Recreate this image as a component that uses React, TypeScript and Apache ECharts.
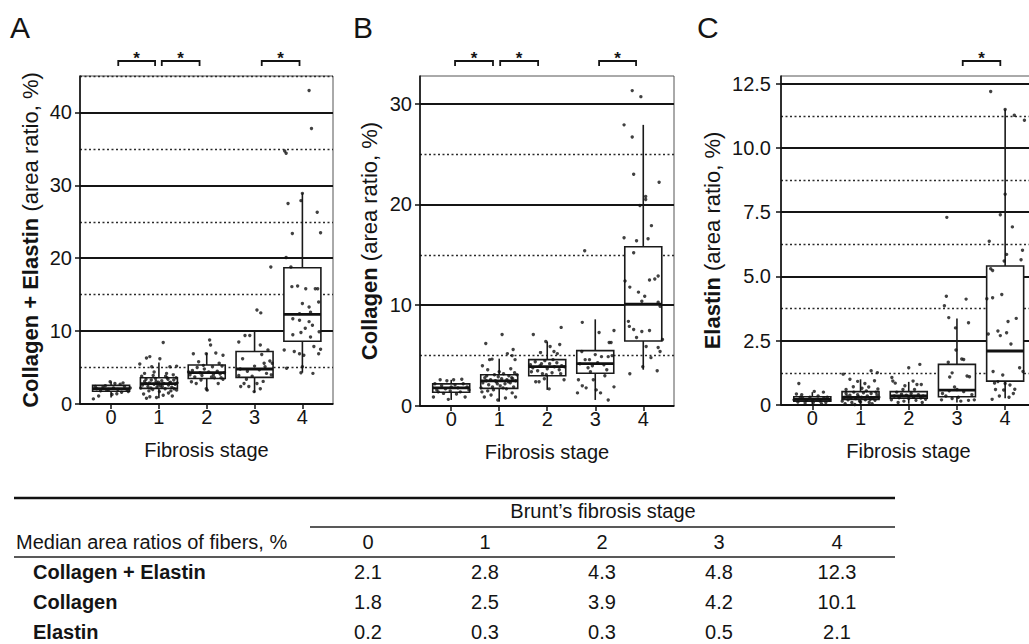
import React, { useEffect, useRef } from 'react';
import * as echarts from 'echarts';

const FONT = '"Liberation Sans", Arial, Helvetica, sans-serif';

// ---------- axis ticks ----------
const stageTicks = [0, 1, 2, 3, 4];
const yTicksA = [0, 10, 20, 30, 40];
const yMinorA = [5, 15, 25, 35, 45];
const yTicksB = [0, 10, 20, 30];
const yMinorB = [5, 15, 25];
const yTicksC = [0, 2.5, 5, 7.5, 10, 12.5];
const yMinorC = [1.25, 3.75, 6.25, 8.75, 11.25];

// ---------- box statistics: [stage, min, Q1, median, Q3, max] ----------
const boxesA = [
  [0, 0.9, 1.75, 2.1, 2.55, 3.1],
  [1, 0.8, 2.15, 2.8, 3.6, 5.7],
  [2, 1.8, 3.5, 4.3, 5.35, 7.0],
  [3, 1.55, 3.65, 4.8, 7.2, 9.9],
  [4, 4.3, 8.6, 12.3, 18.7, 28.9],
];
const boxesB = [
  [0, 0.6, 1.36, 1.8, 2.2, 2.6],
  [1, 0.43, 1.75, 2.5, 3.1, 4.7],
  [2, 1.6, 3.0, 3.9, 4.6, 6.4],
  [3, 0.6, 3.25, 4.2, 5.5, 8.6],
  [4, 3.6, 6.45, 10.1, 15.8, 27.9],
];
const boxesC = [
  [0, 0.04, 0.15, 0.22, 0.32, 0.5],
  [1, 0.02, 0.22, 0.3, 0.52, 1.0],
  [2, 0.05, 0.26, 0.35, 0.52, 0.9],
  [3, 0.1, 0.32, 0.58, 1.58, 3.37],
  [4, 0.26, 0.93, 2.1, 5.41, 11.5],
];

// ---------- individual patients: [jittered stage, value] ----------
const pointsA = [
  // stage 0
  [-0.37, 0.7], [-0.26, 1.1], [-0.02, 3.05], [0.08, 2.8], [0.19, 2.7], [-0.17, 2.3], [0.33, 2.0], [0.12, 1.4],
  [0.22, 1.6], [-0.09, 1.9], [-0.3, 2.1], [0.05, 2.2], [0.28, 2.4], [-0.22, 1.8], [0.14, 2.0], [-0.12, 2.5],
  [0.36, 1.7], [-0.33, 2.4], [0.02, 1.3], [0.25, 2.9], [-0.05, 2.0], [0.4, 2.2],
  // stage 1
  [1.09, 8.45], [0.81, 6.5], [0.74, 6.3], [1.02, 6.2], [0.6, 5.5], [0.85, 5.1], [1.23, 5.1], [1.37, 5.2],
  [0.7, 4.2], [0.9, 4.4], [1.16, 4.2], [1.3, 4.0], [0.68, 1.37], [0.74, 0.8], [0.81, 1.0], [1.09, 1.2],
  [1.2, 1.5], [1.37, 1.9], [0.95, 0.9], [1.28, 1.1], [0.62, 2.2], [0.66, 2.6], [0.7, 3.1], [0.73, 3.4],
  [0.77, 2.4], [0.8, 2.9], [0.84, 3.3], [0.87, 2.0], [0.9, 2.7], [0.93, 3.5], [0.96, 2.3], [0.99, 3.0],
  [1.03, 2.5], [1.06, 3.2], [1.1, 2.8], [1.13, 2.1], [1.17, 3.6], [1.2, 2.6], [1.24, 3.0], [1.27, 2.3],
  [1.31, 3.3], [1.34, 2.7], [1.38, 2.9], [0.64, 3.8], [0.79, 1.8], [0.88, 3.9], [1.01, 1.7], [1.14, 3.8],
  [1.25, 1.8], [1.36, 3.6], [0.72, 2.8], [1.07, 2.4], [1.19, 3.4], [0.98, 2.6], [1.32, 2.1], [0.83, 2.2],
  [1.22, 2.9], [0.94, 3.1],
  // stage 2
  [2.06, 8.77], [2.08, 8.1], [1.72, 6.9], [1.99, 6.9], [2.19, 7.0], [2.34, 6.7], [1.83, 5.8], [2.26, 5.6],
  [1.68, 3.05], [1.78, 2.8], [1.99, 2.1], [2.01, 1.9], [2.24, 2.8], [2.34, 3.4], [2.1, 3.7], [1.65, 4.0],
  [1.7, 4.6], [1.75, 3.7], [1.8, 5.0], [1.86, 4.3], [1.9, 3.9], [1.95, 4.8], [2.04, 4.4], [2.12, 5.1],
  [2.16, 3.6], [2.22, 4.5], [2.28, 4.1], [2.32, 5.2], [2.37, 4.3], [1.88, 3.3], [2.14, 4.0], [1.93, 5.3],
  [2.3, 3.6], [1.62, 4.4],
  // stage 3
  [2.67, 8.5], [2.8, 9.4], [2.9, 9.4], [3.12, 8.1], [3.15, 6.8], [3.32, 5.9], [3.37, 5.6], [3.2, 5.6],
  [3.22, 5.1], [2.67, 3.9], [2.78, 2.8], [2.71, 2.4], [2.88, 2.4], [3.12, 2.1], [2.99, 1.7], [3.05, 2.8],
  [3.05, 12.9], [3.13, 12.5], [3.34, 18.8], [2.7, 4.8], [2.85, 4.5], [2.95, 3.8], [3.1, 4.7], [3.25, 4.2],
  [3.35, 4.0], [2.75, 6.2], [3.0, 5.2], [3.28, 7.4], [2.83, 3.4], [3.18, 3.1],
  // stage 4
  [4.14, 43.0], [4.19, 37.8], [3.63, 34.7], [3.66, 34.4], [4.0, 28.9], [3.97, 27.9], [3.7, 27.5], [4.31, 26.3],
  [3.79, 23.4], [4.38, 23.5], [3.66, 20.1], [3.76, 18.8], [3.78, 16.1], [3.9, 16.2], [4.07, 15.8], [4.27, 15.8],
  [4.32, 15.8], [4.34, 14.0], [4.0, 13.8], [4.14, 13.3], [4.17, 12.6], [3.94, 12.4], [3.8, 11.7], [3.94, 11.5],
  [4.14, 11.3], [4.06, 10.4], [4.21, 10.8], [4.35, 9.9], [3.97, 9.8], [3.8, 9.5], [4.17, 9.2], [4.24, 7.9],
  [3.62, 7.4], [4.38, 7.5], [3.83, 7.2], [3.94, 6.9], [4.34, 6.9], [4.03, 6.7], [3.67, 4.9], [4.0, 5.1],
  [4.22, 4.2], [3.97, 4.3],
];

const pointsB = [
  // stage 0
  [-0.37, 0.9], [-0.06, 0.66], [-0.16, 1.25], [0.19, 1.4], [0.29, 0.9], [-0.23, 2.6], [0.05, 2.6], [0.22, 2.65],
  [-0.09, 2.5], [0.33, 1.9], [-0.3, 1.6], [-0.2, 2.0], [-0.12, 1.7], [-0.02, 1.5], [0.08, 2.1], [0.14, 1.8],
  [0.25, 2.2], [0.37, 1.6], [-0.34, 2.2], [0.0, 1.9], [0.11, 1.2], [-0.27, 1.4],
  // stage 1
  [1.06, 7.1], [0.72, 6.2], [1.29, 5.6], [1.17, 5.2], [0.8, 4.6], [0.85, 4.65], [1.27, 5.0], [1.33, 4.6],
  [0.65, 4.0], [0.76, 3.6], [1.24, 3.7], [0.69, 0.9], [0.83, 1.1], [0.97, 0.6], [1.13, 0.8], [1.27, 1.3],
  [0.76, 1.5], [1.34, 0.9], [0.62, 1.8], [0.66, 2.3], [0.7, 2.8], [0.74, 3.0], [0.78, 2.1], [0.82, 2.6],
  [0.86, 1.9], [0.9, 3.1], [0.94, 2.4], [0.98, 2.9], [1.02, 2.0], [1.05, 2.7], [1.09, 3.2], [1.12, 2.2],
  [1.16, 2.6], [1.2, 3.0], [1.23, 2.3], [1.26, 2.8], [1.3, 1.9], [1.34, 2.5], [1.37, 3.1], [0.64, 1.4],
  [0.88, 1.6], [1.0, 3.4], [1.15, 1.7], [1.32, 3.3], [0.92, 2.5], [1.08, 1.8], [1.19, 2.4], [0.73, 2.5],
  [0.96, 2.2], [1.28, 2.7],
  // stage 2
  [2.29, 7.8], [1.71, 7.1], [1.97, 6.4], [2.26, 6.1], [2.06, 5.9], [1.86, 5.3], [2.14, 5.4], [2.21, 5.2],
  [1.67, 3.4], [1.76, 2.4], [1.83, 2.4], [1.94, 2.7], [2.04, 1.7], [2.35, 2.6], [2.28, 3.2], [1.65, 4.1],
  [1.7, 3.8], [1.75, 4.4], [1.8, 3.5], [1.85, 4.0], [1.9, 3.2], [1.95, 4.5], [2.0, 3.7], [2.05, 4.2],
  [2.1, 3.3], [2.15, 3.9], [2.2, 4.3], [2.25, 3.6], [2.3, 4.0], [2.36, 3.9], [1.88, 4.2], [2.12, 4.6],
  [1.98, 3.1],
  // stage 3
  [2.78, 15.4], [2.73, 8.3], [3.08, 7.3], [3.39, 7.5], [3.29, 6.3], [3.33, 6.3], [2.72, 5.4], [2.79, 4.6],
  [2.88, 4.6], [3.13, 4.9], [3.27, 4.9], [2.94, 4.0], [3.24, 3.6], [2.65, 2.6], [2.73, 2.0], [2.81, 1.8],
  [3.02, 1.6], [3.11, 1.3], [3.27, 0.6], [3.39, 1.9], [2.63, 1.3], [2.96, 2.6], [2.68, 4.2], [2.85, 3.8],
  [3.0, 5.1], [3.05, 4.3], [3.18, 4.1], [3.35, 5.0], [2.9, 3.4], [3.2, 3.0],
  // stage 4
  [3.77, 31.3], [3.95, 30.7], [3.6, 27.9], [3.77, 26.7], [3.8, 23.0], [4.33, 22.2], [4.05, 20.8], [4.05, 20.5],
  [3.93, 19.9], [4.17, 17.9], [3.6, 16.7], [3.86, 16.4], [4.1, 16.6], [3.8, 15.2], [4.31, 12.9], [4.24, 12.6],
  [4.13, 12.5], [3.62, 12.4], [3.72, 11.8], [3.9, 11.3], [4.03, 10.9], [3.97, 10.4], [4.31, 10.3], [4.35, 9.9],
  [3.69, 8.4], [3.71, 7.9], [3.8, 7.6], [3.97, 7.4], [4.13, 7.5], [4.4, 6.6], [4.31, 5.8], [4.35, 5.4],
  [4.16, 4.8], [3.99, 3.9], [3.72, 3.2], [4.29, 3.5], [3.86, 6.8], [4.06, 5.9],
];

const pointsC = [
  // stage 0
  [-0.28, 0.84], [0.23, 0.5], [0.04, 0.53], [-0.33, 0.43], [-0.22, 0.4], [0.31, 0.3], [-0.38, 0.2], [-0.3, 0.12],
  [-0.2, 0.25], [-0.12, 0.18], [-0.05, 0.3], [0.02, 0.1], [0.09, 0.22], [0.16, 0.15], [0.24, 0.28], [0.36, 0.2],
  [-0.15, 0.08], [0.12, 0.35], [0.28, 0.1], [-0.25, 0.3], [0.0, 0.2], [0.19, 0.05],
  // stage 1
  [1.22, 1.33], [1.35, 1.26], [0.64, 1.2], [0.78, 1.0], [0.94, 0.92], [1.09, 0.84], [1.29, 0.94], [0.85, 0.71],
  [1.03, 0.65], [1.17, 0.7], [0.7, 0.6], [1.36, 0.62], [0.62, 0.15], [0.66, 0.3], [0.7, 0.45], [0.74, 0.2],
  [0.78, 0.38], [0.82, 0.1], [0.86, 0.5], [0.9, 0.25], [0.94, 0.4], [0.98, 0.15], [1.02, 0.3], [1.06, 0.48],
  [1.1, 0.2], [1.14, 0.35], [1.18, 0.1], [1.22, 0.45], [1.26, 0.28], [1.3, 0.18], [1.34, 0.4], [1.38, 0.3],
  [0.68, 0.05], [0.88, 0.02], [1.12, 0.55], [1.24, 0.05], [0.96, 0.32], [0.8, 0.27], [1.2, 0.22], [1.0, 0.12],
  [0.72, 0.35], [1.32, 0.5],
  // stage 2
  [2.23, 1.58], [2.0, 1.45], [1.65, 1.07], [1.67, 0.93], [1.72, 0.85], [2.09, 0.93], [2.17, 0.8], [2.26, 0.8],
  [1.92, 0.75], [1.64, 0.2], [1.7, 0.35], [1.75, 0.5], [1.8, 0.28], [1.85, 0.42], [1.9, 0.15], [1.95, 0.38],
  [2.0, 0.25], [2.05, 0.45], [2.1, 0.3], [2.15, 0.18], [2.2, 0.4], [2.25, 0.27], [2.3, 0.35], [2.35, 0.22],
  [1.78, 0.1], [2.12, 0.6], [2.28, 0.1], [1.88, 0.6],
  // stage 3
  [2.79, 7.3], [2.78, 4.23], [3.19, 4.12], [2.74, 3.86], [2.83, 3.4], [3.24, 3.2], [2.97, 3.0], [2.98, 2.14],
  [3.1, 1.79], [2.82, 1.66], [3.14, 1.77], [2.85, 1.09], [3.21, 1.13], [3.26, 1.1], [2.9, 1.25], [2.68, 0.2],
  [2.77, 0.35], [2.9, 0.25], [3.03, 0.3], [3.24, 0.18], [3.31, 0.4], [2.84, 0.55], [3.14, 0.52], [3.0, 0.6],
  [2.7, 0.45], [3.36, 0.2], [3.08, 0.15], [2.95, 0.7],
  // stage 4
  [3.7, 12.2], [4.0, 11.5], [4.19, 11.27], [4.4, 11.08], [4.0, 8.2], [3.9, 7.4], [4.15, 6.93], [3.67, 6.37],
  [4.36, 6.02], [4.03, 5.86], [4.33, 5.65], [3.98, 5.6], [3.7, 5.3], [3.74, 5.23], [3.74, 4.17], [3.62, 4.13],
  [3.93, 4.3], [4.06, 3.25], [4.23, 3.37], [3.85, 2.88], [4.03, 2.81], [3.65, 2.76], [3.9, 2.7], [4.12, 2.37],
  [4.3, 1.45], [4.37, 1.3], [3.75, 1.3], [3.95, 1.17], [3.85, 0.91], [3.78, 0.85], [4.0, 0.84], [4.1, 0.78],
  [4.17, 0.45], [3.97, 0.58], [4.2, 0.61], [3.8, 0.6], [3.73, 0.22], [3.88, 0.35], [4.08, 0.3],
];

// ---------- significance brackets: [from stage, to stage] ----------
const bracketsA = [[0.15, 0.92], [1.06, 1.85], [3.15, 3.94]];
const bracketsB = [[0.08, 0.87], [1.02, 1.81], [3.08, 3.85]];
const bracketsC = [[3.12, 3.9]];

// ---------- table ----------
const tableTitle = 'Brunt\u2019s fibrosis stage';
const tableHeaderLabel = 'Median area ratios of fibers, %';
const tableStages = ['0', '1', '2', '3', '4'];
const tableRows = ['Collagen + Elastin', 'Collagen', 'Elastin'];
const tableValues = [
  ['2.1', '2.8', '4.3', '4.8', '12.3'],
  ['1.8', '2.5', '3.9', '4.2', '10.1'],
  ['0.2', '0.3', '0.3', '0.5', '2.1'],
];

const fmtInt = (v: number) => (Math.abs(v - Math.round(v)) < 1e-6 ? String(Math.round(v)) : '');
const fmtC = (v: number) => (v === 0 ? '0' : v.toFixed(1));

const panels = [
  {
    letter: 'A', letterX: 10, grid: { left: 80, top: 76, width: 253, height: 328 },
    yMax: 45, interval: 10, ticks: yTicksA, minor: yMinorA, fmt: fmtInt,
    nameBold: 'Collagen + Elastin', nameGap: 39, labelMargin: 8,
    boxes: boxesA, points: pointsA, brackets: bracketsA,
  },
  {
    letter: 'B', letterX: 353, grid: { left: 420, top: 76, width: 254, height: 330 },
    yMax: 32.75, interval: 10, ticks: yTicksB, minor: yMinorB, fmt: fmtInt,
    nameBold: 'Collagen', nameGap: 40, labelMargin: 8,
    boxes: boxesB, points: pointsB, brackets: bracketsB,
  },
  {
    letter: 'C', letterX: 697, grid: { left: 781, top: 76, width: 255, height: 329 },
    yMax: 12.8, interval: 2.5, ticks: yTicksC, minor: yMinorC, fmt: fmtC,
    nameBold: 'Elastin', nameGap: 58, labelMargin: 10,
    boxes: boxesC, points: pointsC, brackets: bracketsC,
  },
];

const INK = '#141414';

function renderBox(params: any, api: any) {
  const x = api.value(0);
  const pMin = api.coord([x, api.value(1)]);
  const pQ1 = api.coord([x, api.value(2)]);
  const pMed = api.coord([x, api.value(3)]);
  const pQ3 = api.coord([x, api.value(4)]);
  const pMax = api.coord([x, api.value(5)]);
  const cx = pMin[0];
  const hw = 18.5;
  const ls = { stroke: '#1a1a1a', lineWidth: 1.6, fill: 'none' };
  return {
    type: 'group',
    children: [
      { type: 'line', shape: { x1: cx, y1: pMax[1], x2: cx, y2: pQ3[1] }, style: ls },
      { type: 'line', shape: { x1: cx, y1: pQ1[1], x2: cx, y2: pMin[1] }, style: ls },
      {
        type: 'rect',
        shape: { x: cx - hw, y: pQ3[1], width: hw * 2, height: pQ1[1] - pQ3[1] },
        style: { fill: '#fff', stroke: '#1a1a1a', lineWidth: 1.6 },
      },
      { type: 'line', shape: { x1: cx - hw, y1: pMed[1], x2: cx + hw, y2: pMed[1] }, style: { stroke: '#111', lineWidth: 2.8, fill: 'none' } },
    ],
  };
}

function renderBracket(params: any, api: any) {
  const a = api.coord([api.value(0), 0]);
  const b = api.coord([api.value(1), 0]);
  const top = params.coordSys.y;
  const yl = top - 15;
  const yt = top - 10;
  return {
    type: 'group',
    children: [
      {
        type: 'polyline',
        shape: { points: [[a[0], yt], [a[0], yl], [b[0], yl], [b[0], yt]] },
        style: { stroke: INK, lineWidth: 1.8, fill: 'none' },
      },
      {
        type: 'text',
        style: {
          text: '*', x: (a[0] + b[0]) / 2, y: top - 18, fontSize: 17, fontWeight: 'bold',
          fill: INK, align: 'center', verticalAlign: 'middle', fontFamily: FONT,
        },
      },
    ],
  };
}

function buildOption() {
  const grid: any[] = [];
  const xAxis: any[] = [];
  const yAxis: any[] = [];
  const series: any[] = [];
  const graphic: any[] = [];

  panels.forEach((p, i) => {
    grid.push({ ...p.grid, show: true, borderColor: '#555', borderWidth: 1, backgroundColor: 'transparent' });
    xAxis.push({
      type: 'value', gridIndex: i, min: -0.65, max: 4.64,
      name: 'Fibrosis stage', nameLocation: 'middle', nameGap: 36,
      nameTextStyle: { fontSize: 20, color: INK, fontFamily: FONT },
      axisLine: { show: true, onZero: false, lineStyle: { color: '#111', width: 1.6 } },
      axisTick: { show: true, customValues: stageTicks, length: 5, lineStyle: { color: '#111', width: 1.5 } },
      axisLabel: { customValues: stageTicks, fontSize: 20, color: INK, margin: 3, fontFamily: FONT, formatter: fmtInt },
      splitLine: { show: false },
    });
    yAxis.push({
      type: 'value', gridIndex: i, min: 0, max: p.yMax, interval: p.interval, position: 'left',
      name: `{b|${p.nameBold}} (area ratio, %)`, nameLocation: 'middle', nameGap: p.nameGap,
      nameTextStyle: {
        fontSize: 22, color: INK, fontFamily: FONT,
        rich: { b: { fontSize: 22, fontWeight: 'bold', color: INK, fontFamily: FONT } },
      },
      axisLine: { show: true, onZero: false, lineStyle: { color: '#111', width: 1.6 } },
      axisTick: { show: true, customValues: p.ticks, length: 5, lineStyle: { color: '#111', width: 1.5 } },
      axisLabel: { customValues: p.ticks, fontSize: 20, color: INK, margin: p.labelMargin, fontFamily: FONT, formatter: p.fmt },
      splitLine: { show: true, lineStyle: { color: '#151515', width: 1.8, type: 'solid' } },
    });
    yAxis.push({
      type: 'value', gridIndex: i, min: 0, max: p.yMax, interval: p.interval / 2, position: 'left',
      axisLine: { show: false, onZero: false },
      axisTick: { show: false, customValues: p.minor },
      axisLabel: { show: false, customValues: p.minor },
      splitLine: { show: true, lineStyle: { color: '#2a2a2a', width: 1.4, type: [2, 2.5] } },
    });
    series.push({
      type: 'custom', name: `box${p.letter}`, xAxisIndex: i, yAxisIndex: i * 2,
      data: p.boxes, encode: { x: 0, y: [1, 2, 3, 4, 5] }, renderItem: renderBox, z: 3, silent: true,
    });
    series.push({
      type: 'scatter', name: `pts${p.letter}`, xAxisIndex: i, yAxisIndex: i * 2,
      data: p.points, symbol: 'circle', symbolSize: 3.4, itemStyle: { color: '#111' }, z: 4, silent: true,
    });
    series.push({
      type: 'custom', name: `sig${p.letter}`, xAxisIndex: i, yAxisIndex: i * 2, clip: false,
      data: p.brackets.map((b) => [b[0], b[1], 0]), encode: { x: [0, 1], y: 2 },
      renderItem: renderBracket, z: 5, silent: true,
    });
    graphic.push({
      type: 'text', left: p.letterX, top: 12,
      style: { text: p.letter, fontSize: 30, fill: INK, fontFamily: FONT },
    });
  });

  // table
  const colX = [368, 485, 602, 719, 837];
  const rowY = [572, 602, 632];
  graphic.push({ type: 'line', shape: { x1: 14, y1: 498, x2: 895, y2: 498 }, style: { stroke: '#111', lineWidth: 2.5 } });
  graphic.push({ type: 'line', shape: { x1: 310, y1: 527, x2: 895, y2: 527 }, style: { stroke: '#222', lineWidth: 1.3 } });
  graphic.push({ type: 'line', shape: { x1: 14, y1: 557, x2: 895, y2: 557 }, style: { stroke: '#222', lineWidth: 1.5 } });
  graphic.push({
    type: 'text', x: 603, y: 511,
    style: { text: tableTitle, fontSize: 20, fill: INK, fontFamily: FONT, align: 'center', verticalAlign: 'middle' },
  });
  graphic.push({
    type: 'text', x: 16, y: 542,
    style: { text: tableHeaderLabel, fontSize: 20, fill: INK, fontFamily: FONT, align: 'left', verticalAlign: 'middle' },
  });
  tableStages.forEach((s, j) => {
    graphic.push({
      type: 'text', x: colX[j], y: 542,
      style: { text: s, fontSize: 20, fill: INK, fontFamily: FONT, align: 'center', verticalAlign: 'middle' },
    });
  });
  tableRows.forEach((r, k) => {
    graphic.push({
      type: 'text', x: 33, y: rowY[k],
      style: { text: r, fontSize: 20, fontWeight: 'bold', fill: INK, fontFamily: FONT, align: 'left', verticalAlign: 'middle' },
    });
    tableValues[k].forEach((v, j) => {
      graphic.push({
        type: 'text', x: colX[j], y: rowY[k],
        style: { text: v, fontSize: 20, fill: INK, fontFamily: FONT, align: 'center', verticalAlign: 'middle' },
      });
    });
  });

  return {
    animation: false,
    backgroundColor: '#fff',
    textStyle: { fontFamily: FONT },
    grid, xAxis, yAxis, series, graphic,
  };
}

export default function App() {
  const ref = useRef<HTMLDivElement>(null);
  useEffect(() => {
    if (!ref.current) return;
    const chart = echarts.init(ref.current, null, { renderer: 'svg' });
    chart.setOption(buildOption() as any);
    return () => chart.dispose();
  }, []);
  return (
    <div style={{ position: 'fixed', left: 0, top: 0, width: 1029, height: 644, overflow: 'hidden', background: '#fff' }}>
      <div ref={ref} style={{ width: 1040, height: 644 }} />
    </div>
  );
}
